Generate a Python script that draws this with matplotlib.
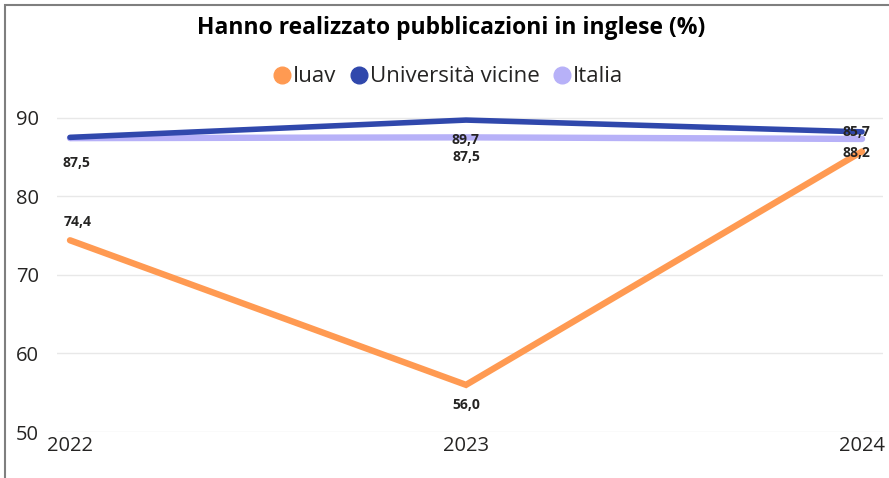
import matplotlib
matplotlib.use("Agg")
import matplotlib.pyplot as plt
from matplotlib.lines import Line2D
from matplotlib.patches import Rectangle

years = [2022, 2023, 2024]
iuav = [74.4, 56.0, 85.7]
vicine = [87.5, 89.7, 88.2]
italia = [87.4, 87.5, 87.3]

series_names = ["Iuav", "Università vicine", "Italia"]
colors = ["#FF9A52", "#3048AC", "#B7B1F8"]

# data labels: (series index, point index, text, dx px, dy px)
labels = [
    (1, 0, "87,5", 6, -26),
    (0, 0, "74,4", 8, 18),
    (1, 1, "89,7", 0, -20),
    (2, 1, "87,5", 0, -20),
    (0, 1, "56,0", 0, -20),
    (0, 2, "85,7", -6, 19),
    (1, 2, "88,2", -6, -21),
]

plt.rcParams["font.family"] = ["Open Sans", "DejaVu Sans"]

fig = plt.figure(figsize=(8.89, 4.78), dpi=100)
ax = fig.add_axes([57 / 889, 1 - 432 / 478, 826 / 889, (432 - 102) / 478])

data = [iuav, vicine, italia]
zorders = [4, 3, 2]
for vals, c, lw, z in zip(data, colors, [4.6, 4.0, 4.6], zorders):
    ax.plot(years, vals, color=c, lw=lw, solid_capstyle="round",
            solid_joinstyle="miter", zorder=z)

for si, pi, txt, dx, dy in labels:
    ax.annotate(txt, (years[pi], data[si][pi]), xytext=(dx, dy),
                textcoords="offset pixels", ha="center", va="center",
                fontsize=10, color="#252423", fontweight="bold", zorder=6)

ax.set_xlim(2022 - 13 / 396, 2024 + 21 / 396)
ax.set_ylim(50, 92)
ax.set_yticks([50, 60, 70, 80, 90])
ax.set_xticks(years)
ax.set_xticklabels([str(y) for y in years])
ax.grid(axis="y", color="#E8E8E8", lw=1)
ax.set_axisbelow(True)
for s in ax.spines.values():
    s.set_visible(False)
ax.tick_params(length=0, labelsize=14.5, colors="#252423", pad=3)
ax.tick_params(axis="y", pad=13)

fig.text(0.508, 1 - 28 / 478, "Hanno realizzato pubblicazioni in inglese (%)",
         ha="center", va="center", fontsize=16.5, fontweight="bold", color="#000000")

handles = [Line2D([], [], ls="", marker="o", ms=12, color=c) for c in colors]
fig.legend(handles, series_names, loc="center", bbox_to_anchor=(0.503, 1 - 77 / 478),
           ncol=3, frameon=False, fontsize=16, handletextpad=0.0,
           columnspacing=0.5, handlelength=1.0, labelcolor="#252423")

fig.add_artist(Rectangle((5 / 889, -0.05), 1.1, 1 - 5 / 478 + 0.05,
                         transform=fig.transFigure, fill=False,
                         edgecolor="#7F7F7F", lw=1.5))

fig.savefig("out.png", dpi=100)
